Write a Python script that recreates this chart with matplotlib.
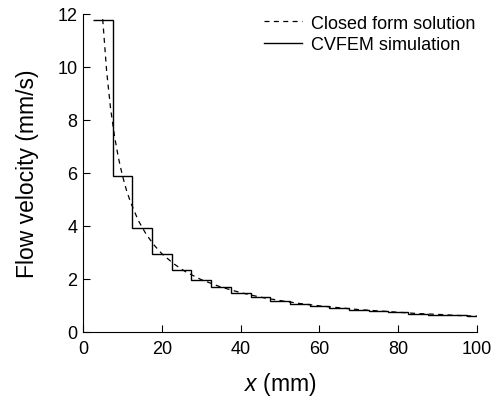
import matplotlib
matplotlib.use("Agg")
import matplotlib.pyplot as plt

# closed form solution
x_closed = [5, 6, 7, 8, 9, 10, 11, 12, 14, 16, 18, 20, 23, 26, 30, 35, 40, 45,
            50, 55, 60, 65, 70, 75, 80, 85, 90, 95, 100]
v_closed = [11.8, 9.83, 8.43, 7.38, 6.56, 5.9, 5.36, 4.92, 4.21, 3.69, 3.28,
            2.95, 2.57, 2.27, 1.97, 1.69, 1.48, 1.31, 1.18, 1.07, 0.98, 0.91,
            0.84, 0.79, 0.74, 0.69, 0.66, 0.62, 0.59]

# CVFEM simulation: control volume edges and the velocity held in each one
cv_edges = [2.5, 7.5, 12.5, 17.5, 22.5, 27.5, 32.5, 37.5, 42.5, 47.5, 52.5,
            57.5, 62.5, 67.5, 72.5, 77.5, 82.5, 87.5, 92.5, 97.5, 100]
v_cvfem = [11.77, 5.88, 3.92, 2.94, 2.35, 1.96, 1.68, 1.47, 1.31, 1.18, 1.07,
           0.98, 0.90, 0.84, 0.78, 0.74, 0.69, 0.65, 0.62, 0.59]

plt.rcParams["font.family"] = ["Liberation Sans", "DejaVu Sans"]
plt.rcParams["mathtext.fontset"] = "custom"
plt.rcParams["mathtext.it"] = "Liberation Sans:italic"
plt.rcParams["mathtext.rm"] = "Liberation Sans"

fig = plt.figure(figsize=(4.97, 4.02), dpi=100)
ax = fig.add_axes([0.167, 0.172, 0.793, 0.791])

ax.plot(x_closed, v_closed, color="black", linewidth=0.9,
        linestyle=(0, (4, 3.5)), label="Closed form solution")
# no baseline, so no vertical drop at the outer edges
ax.stairs(v_cvfem, cv_edges, baseline=None, color="black", linewidth=1.0,
          label="CVFEM simulation")

ax.set_xlim(0, 100)
ax.set_ylim(0, 12)
ax.set_xticks([0, 20, 40, 60, 80, 100])
ax.set_yticks([0, 2, 4, 6, 8, 10, 12])
ax.tick_params(direction="in", length=5, width=0.8, labelsize=13, pad=4)
ax.tick_params(axis="x", pad=6)
ax.spines["top"].set_visible(False)
ax.spines["right"].set_visible(False)

ax.set_xlabel(r"$x$ (mm)", fontsize=16.5, labelpad=9)
ax.set_ylabel("Flow velocity (mm/s)", fontsize=16.5, labelpad=13)

ax.legend(loc="upper right", frameon=False, fontsize=13, handlelength=2.1,
          handletextpad=0.55, labelspacing=0.25, borderaxespad=0.0,
          bbox_to_anchor=(1.015, 1.02))

fig.savefig("out.png", dpi=100)
plt.close()
